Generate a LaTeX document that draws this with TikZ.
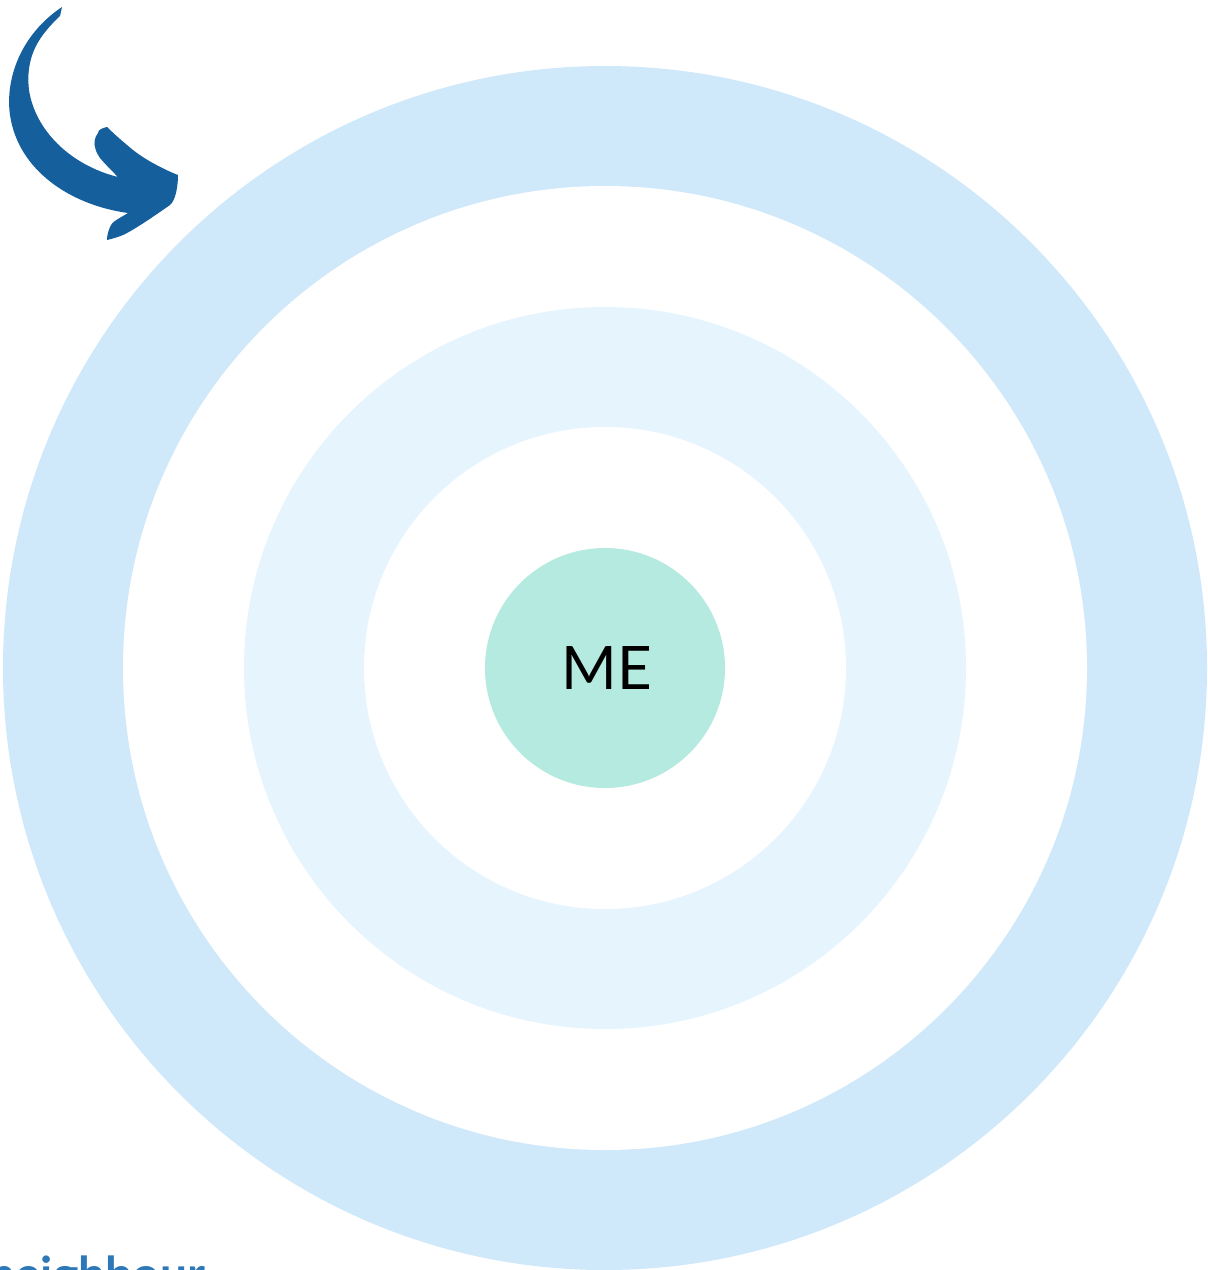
\documentclass[tikz,border=0pt]{standalone}
\usepackage{fontspec}
\setmainfont{Lato}
\newfontfamily\latobold{Lato Bold}
\definecolor{ringA}{HTML}{CFE9FB}
\definecolor{ringB}{HTML}{E6F4FE}
\definecolor{core}{HTML}{B4EADF}
\definecolor{arrowblue}{HTML}{155F9C}
\definecolor{textblue}{HTML}{2E78B8}
\tikzset{
  disk/.style={circle, inner sep=0pt, draw=none},
}
\begin{document}
\begin{tikzpicture}[x=1pt,y=-1pt]
\useasboundingbox (0,0) rectangle (1208,1270);
\clip (0,0) rectangle (1208,1270);
\fill[white] (0,0) rectangle (1208,1270);
\coordinate (c) at (605,668);
\node[disk, fill=ringA, minimum size=1204pt] (r1) at (c) {};
\node[disk, fill=white, minimum size=964pt] (w1) at (c) {};
\node[disk, fill=ringB, minimum size=722pt] (r2) at (c) {};
\node[disk, fill=white, minimum size=482pt] (w2) at (c) {};
\node[disk, fill=core, minimum size=240pt] (me) at (c) {};
\node[font=\fontsize{60}{60}\selectfont, text=black] (metext) at (607,668) {ME};
% curved arrow
\fill[arrowblue] (62,7) .. controls (20,35) and (5,80) .. (10,115)
  .. controls (18,170) and (70,205) .. (128,213)
  .. controls (120,218) and (111,222) .. (110,227)
  .. controls (108,232) and (107,236) .. (107,240)
  .. controls (115,238) and (122,236) .. (127,233)
  .. controls (140,226) and (160,212) .. (170,205)
  .. controls (176,200) and (178,185) .. (178,175)
  .. controls (170,172) and (148,162) .. (133,150)
  .. controls (122,141) and (112,132) .. (107,127)
  .. controls (102,128) and (98,130) .. (98,133)
  .. controls (94,138) and (94,144) .. (95,147)
  .. controls (96,152) and (98,155) .. (100,158)
  .. controls (106,165) and (112,171) .. (118,177)
  .. controls (70,165) and (35,130) .. (29,90)
  .. controls (25,55) and (40,35) .. (60,16)
  -- cycle;
% partially visible text at the bottom edge
\node[anchor=base west, inner sep=0pt, font=\latobold\fontsize{48}{48}\selectfont, text=textblue] (bottomtext) at (-12,1291) {neighbour};
\end{tikzpicture}
\end{document}
